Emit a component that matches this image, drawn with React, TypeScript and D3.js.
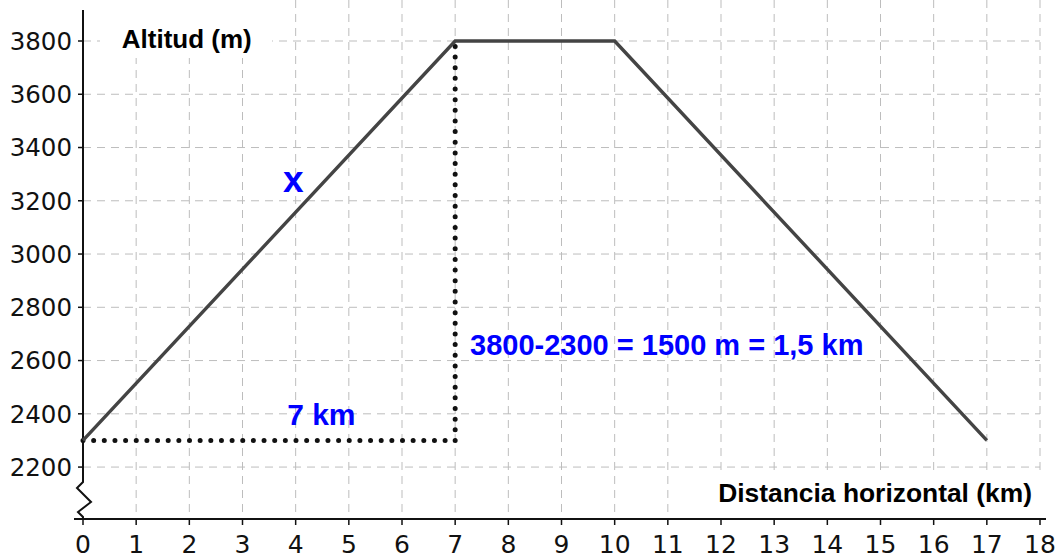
import React from "react";
import * as d3 from "d3";

const W = 1056;
const H = 559;

const xTicks = d3.range(0, 19);
const yTicks = [2200, 2400, 2600, 2800, 3000, 3200, 3400, 3600, 3800];

// perfil del recorrido
const profile = [
  { km: 0, alt: 2300 },
  { km: 7, alt: 3800 },
  { km: 10, alt: 3800 },
  { km: 17, alt: 2300 },
];

const baseRun = [
  { km: 0, alt: 2300 },
  { km: 7, alt: 2300 },
];
const rise = [
  { km: 7, alt: 2300 },
  { km: 7, alt: 3800 },
];

const notes = [
  { text: "Altitud (m)", km: 0.73, alt: 3774, size: 26, color: "#000", anchor: "start" },
  { text: "x", km: 3.76, alt: 3233, size: 37, color: "#0000ff", anchor: "start" },
  { text: "3800-2300 = 1500 m = 1,5 km", km: 7.28, alt: 2621, size: 29, color: "#0000ff", anchor: "start" },
  { text: "7 km", km: 3.84, alt: 2358, size: 30, color: "#0000ff", anchor: "start" },
  { text: "Distancia horizontal (km)", km: 17.85, alt: 2069, size: 26.4, color: "#000", anchor: "end" },
];

const x = d3.scaleLinear().domain([0, 18]).range([83, 1040]);
const y = d3.scaleLinear().domain([2005, 3800]).range([519, 41]);

export default function App() {
  const line = d3
    .line<{ km: number; alt: number }>()
    .x((d) => x(d.km))
    .y((d) => y(d.alt));

  const x0 = x(0);
  const yb = y.range()[0];
  const yTop = 10;
  // eje vertical con corte
  const axisPath = [
    [x0, yTop],
    [x0, yb - 37],
    [x0 - 6, yb - 31],
    [x0 + 8, yb - 17],
    [x0 - 5, yb - 7],
    [x0, yb - 2],
    [x0, yb],
  ];

  return (
    <svg
      width={W}
      height={H}
      style={{ position: "absolute", left: 0, top: 0, background: "#fff" }}
    >
      <g stroke="#bdbdbd" strokeWidth={1} strokeDasharray="8 6">
        {xTicks.slice(1).map((t) => (
          <line key={"gx" + t} x1={x(t)} x2={x(t)} y1={0} y2={yb} />
        ))}
        {yTicks.map((t) => (
          <line key={"gy" + t} x1={x0} x2={x(18)} y1={y(t)} y2={y(t)} />
        ))}
      </g>

      {/* fondos blancos de las etiquetas */}
      <rect x={100} y={0} width={172} height={58} fill="#fff" />
      <rect x={705} y={472} width={345} height={40} fill="#fff" />

      <path
        d={d3.line()(axisPath as [number, number][]) || ""}
        fill="none"
        stroke="#111"
        strokeWidth={2}
      />
      <line x1={74} x2={1046} y1={yb} y2={yb} stroke="#111" strokeWidth={2} />

      <g fontFamily="DejaVu Sans" fill="#111">
        {yTicks.map((t) => (
          <g key={"ty" + t}>
            <line x1={x0 - 5} x2={x0} y1={y(t)} y2={y(t)} stroke="#111" strokeWidth={1.5} />
            <text x={72} y={y(t)} dy="0.36em" fontSize={24.5} textAnchor="end">
              {t}
            </text>
          </g>
        ))}
        {xTicks.map((t) => (
          <g key={"tx" + t}>
            <line x1={x(t)} x2={x(t)} y1={yb} y2={yb + 6} stroke="#111" strokeWidth={1.5} />
            <text x={x(t)} y={553} fontSize={25} textAnchor="middle">
              {t}
            </text>
          </g>
        ))}
      </g>

      <g fill="none" stroke="#111" strokeWidth={5} strokeLinecap="round" strokeDasharray="0 10.65">
        <path d={line(baseRun) || ""} />
        <path d={line(rise) || ""} />
      </g>

      <path d={line(profile) || ""} fill="none" stroke="#444" strokeWidth={3.4} />

      <g fontFamily="Liberation Sans, Arial, sans-serif" fontWeight="bold">
        {notes.map((n) => (
          <text
            key={n.text}
            x={x(n.km)}
            y={y(n.alt)}
            fontSize={n.size}
            fill={n.color}
            textAnchor={n.anchor as any}
          >
            {n.text}
          </text>
        ))}
      </g>
    </svg>
  );
}
